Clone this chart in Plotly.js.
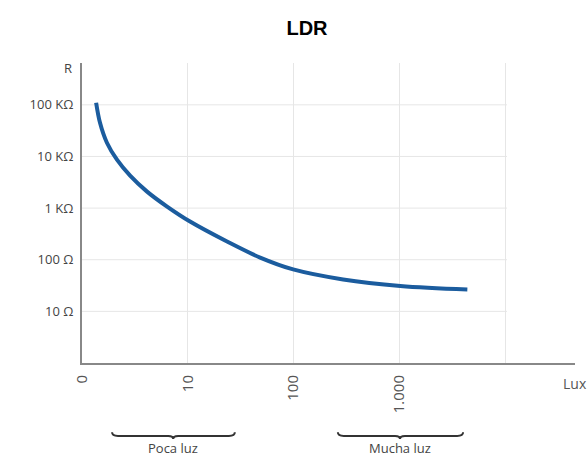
<!DOCTYPE html>
<html>
<head>
<meta charset="utf-8">
<script src="https://cdn.plot.ly/plotly-3.0.1.min.js"></script>
<style>html,body{margin:0;padding:0;background:#fff}#chart{width:587px;height:470px}</style>
</head>
<body>
<div id="chart"></div>
<script>
// Data (log-log LDR curve)
const lux = [1.36, 1.48, 1.72, 2.14, 2.85, 4.12, 6.37, 10.5, 23.5, 48.3, 99, 294, 1020, 4390];
const resistance = [110000, 44900, 18450, 8650, 4250, 2085, 1070, 548, 225, 110, 64.9, 41.5, 31.1, 26.6];

const xTickVals = [1, 10, 100, 1000, 10000];
const xTickText = ["0", "10", "100", "1.000", ""];
const yTickVals = [10, 100, 1000, 10000, 100000];
const yTickText = ["10 Ω", "100 Ω", "1 KΩ", "10 KΩ", "100 KΩ"];

const ranges = [
  {label: "Poca luz", x0: 0.061, x1: 0.310, xm: 0.185},
  {label: "Mucha luz", x0: 0.519, x1: 0.773, xm: 0.645}
];

const braceY = -0.243;
const shapes = ranges.map(r => ({
  type: "path", xref: "paper", yref: "paper",
  path: `M ${r.x0},${braceY + 0.012} Q ${r.x0},${braceY} ${r.x0 + 0.012},${braceY} L ${r.xm - 0.01},${braceY} Q ${r.xm},${braceY} ${r.xm},${braceY - 0.01} Q ${r.xm},${braceY} ${r.xm + 0.01},${braceY} L ${r.x1 - 0.012},${braceY} Q ${r.x1},${braceY} ${r.x1},${braceY + 0.012}`,
  line: {color: "#333", width: 2}
}));
// horizontal gridlines stop at the last vertical gridline, as in the reference
yTickVals.forEach(v => shapes.push({
  type: "line", xref: "paper", yref: "y", x0: 0, x1: 0.862, y0: v, y1: v,
  line: {color: "#e6e6e6", width: 1}, layer: "below"
}));

const annotations = ranges.map(r => ({
  xref: "paper", yref: "paper", x: r.xm, y: -0.283, xanchor: "center", yanchor: "middle", text: r.label,
  showarrow: false, font: {family: "Open Sans, sans-serif", size: 13, color: "#444"}
}));
annotations.push({xref: "paper", yref: "paper", x: -0.028, y: 0.983, xanchor: "center", yanchor: "middle", text: "R", showarrow: false,
  font: {family: "Open Sans, sans-serif", size: 13, color: "#444"}});
annotations.push({xref: "paper", yref: "paper", x: 1.0, y: -0.067, xanchor: "center", yanchor: "middle", text: "Lux", showarrow: false,
  font: {family: "Open Sans, sans-serif", size: 14, color: "#555"}});

const trace = {
  x: lux, y: resistance, type: "scatter", mode: "lines",
  line: {color: "#1b5c9e", width: 4, shape: "spline", smoothing: 1.0},
  hoverinfo: "skip"
};

const layout = {
  width: 587, height: 470,
  margin: {l: 82, r: 12, t: 63, b: 107},
  paper_bgcolor: "#fff", plot_bgcolor: "#fff",
  showlegend: false,
  title: {text: "<b>LDR</b>", x: 0.523, xanchor: "center", y: 0.94, yanchor: "middle",
    font: {family: "Liberation Sans, Arial, sans-serif", size: 20, color: "#000"}},
  xaxis: {
    type: "log", range: [0, 4.66], tickvals: xTickVals, ticktext: xTickText,
    tickangle: -90, ticks: "", ticklabelstandoff: 4,
    showgrid: true, gridcolor: "#e6e6e6", gridwidth: 1,
    showline: true, linecolor: "#888", linewidth: 2, zeroline: false,
    tickfont: {family: "Open Sans, sans-serif", size: 15, color: "#555"}
  },
  yaxis: {
    type: "log", range: [0, 5.81], tickvals: yTickVals, ticktext: yTickText,
    ticks: "", ticklabelstandoff: 4,
    showgrid: false,
    showline: true, linecolor: "#888", linewidth: 2, zeroline: false,
    tickfont: {family: "Open Sans, sans-serif", size: 13, color: "#444"}
  },
  shapes: shapes,
  annotations: annotations
};

Plotly.newPlot("chart", [trace], layout, {displayModeBar: false, staticPlot: true});
</script>
</body>
</html>
